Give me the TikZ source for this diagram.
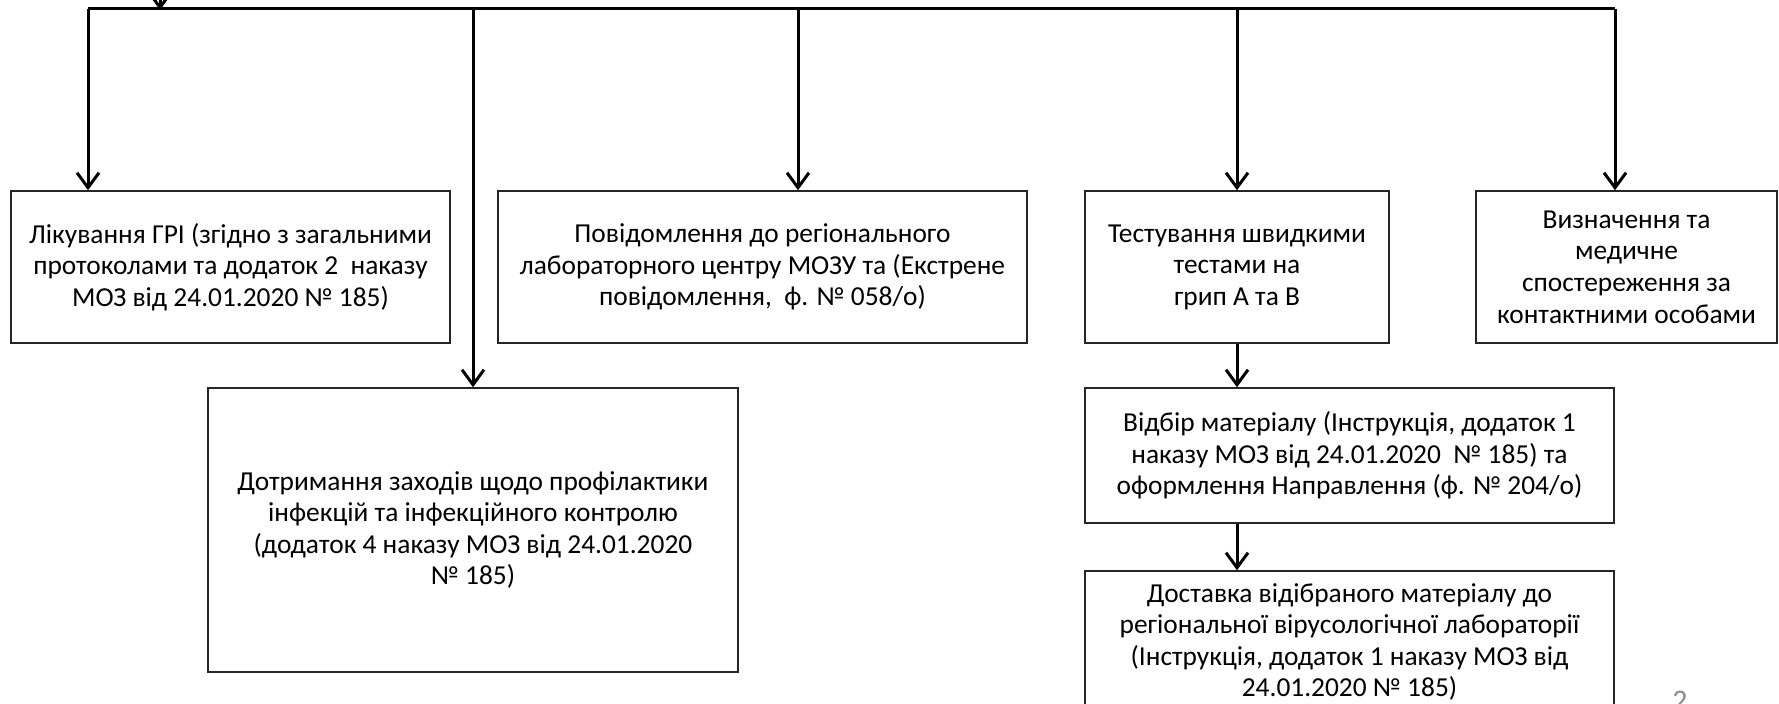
\documentclass[tikz,border=0pt]{standalone}
\usepackage{fontspec}
\setmainfont{Carlito}
\usetikzlibrary{arrows.meta}
\begin{document}
\begin{tikzpicture}[x=1bp,y=-1bp,
  box/.style={draw=black!85, line width=1.5bp, rectangle, inner sep=0pt, align=center,
    font=\fontsize{27.5}{31.7}\selectfont},
  conn/.style={line width=3bp, black},
  arr/.style={conn, -{Straight Barb[length=15bp,width=22bp]}}]
\clip (0,0) rectangle (1779,704);
\fill[white] (0,0) rectangle (1779,704);
% boxes (centre, width, height)
\node[box, minimum width=439bp, minimum height=152bp] (b1) at (230.5,267) {Лікування ГРІ (згідно з загальними\\протоколами та додаток 2\ \ наказу\\МОЗ від 24.01.2020 № 185)};
\node[box, minimum width=529bp, minimum height=152bp] (b2) at (762.5,267) {Повідомлення до регіонального\\лабораторного центру МОЗУ та (Екстрене\\повідомлення,\ \ ф. № 058/о)};
\node[box, minimum width=304bp, minimum height=152bp] (b3) at (1237,267) {Тестування швидкими\\тестами на\\грип А та В};
\node[box, minimum width=301bp, minimum height=152bp] (b4) at (1626.5,267) {Визначення та\\медичне\\спостереження за\\контактними особами};
\node[box, minimum width=530bp, minimum height=284bp] (b5) at (473,530) {Дотримання заходів щодо профілактики\\інфекцій та інфекційного контролю\\(додаток 4 наказу МОЗ від 24.01.2020\\№ 185)};
\node[box, minimum width=529bp, minimum height=135bp] (b6) at (1349.5,455.5) {Відбір матеріалу (Інструкція, додаток 1\\наказу МОЗ від 24.01.2020\ \ № 185) та\\оформлення Направлення (ф. № 204/о)};
\node[box, minimum width=529bp, minimum height=142bp] (b7) at (1349.5,642) {Доставка відібраного матеріалу до\\регіональної вірусологічної лабораторії\\(Інструкція, додаток 1 наказу МОЗ від\\24.01.2020 № 185)};
% junction points on the distribution line
\coordinate (j1) at (88,9);
\coordinate (j5) at (473,9);
\coordinate (j2) at (798,9);
\coordinate (j3) at (1237,9);
\coordinate (j4) at (1615,9);
\coordinate (src) at (160,-40);
\coordinate (srcend) at (160,10);
% connectors
\draw[arr] (src) -- (srcend);
\draw[conn] (j1) -- (j4);
\draw[arr] (j1) -- (j1 |- b1.north);
\draw[arr] (j5) -- (j5 |- b5.north);
\draw[arr] (j2) -- (j2 |- b2.north);
\draw[arr] (j3) -- (j3 |- b3.north);
\draw[arr] (j4) -- (j4 |- b4.north);
\draw[arr] (b3.south) -- (b6.north -| b3.south);
\draw[arr] (b3.south |- b6.south) -- (b3.south |- b7.north);
% page number
\node[text=black!45, font=\fontsize{30}{30}\selectfont, anchor=north] (pg) at (1680,688) {2};
\end{tikzpicture}
\end{document}
